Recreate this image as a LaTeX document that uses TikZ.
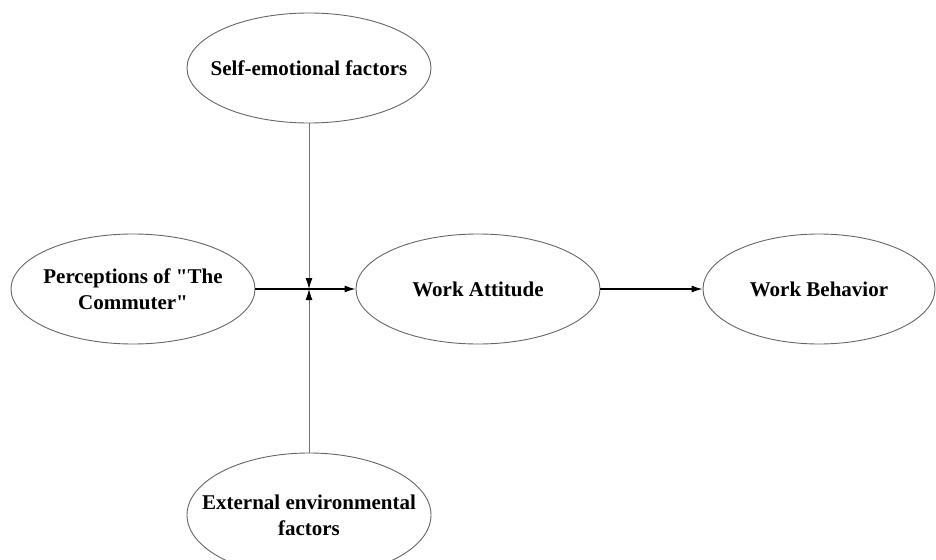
\documentclass[tikz,border=0pt]{standalone}
\usepackage{fontspec}
\setmainfont{Liberation Serif}[Ligatures=TeXOff]
\usetikzlibrary{arrows.meta,shapes.geometric}

\begin{document}
\begin{tikzpicture}[
    x = 1pt, y = -1pt, % one unit = one pixel, y downwards
    > = {Latex[length=11pt,width=7pt,color=black]}, % arrow head style
    line width = 1.2pt % line style
    ]

    \tikzset{factor/.style={
    ellipse,
    draw = black!60,
    line width = 0.9pt,
    fill = white,
    minimum width = 244pt,
    minimum height = 110pt,
    inner xsep = -40pt,
    inner ysep = 0pt,
    align = center,
    font = \fontsize{21}{26}\selectfont\bfseries
    }}
    \useasboundingbox (0,0) rectangle (936,559);

    \node[factor] (self) at (309,68) {Self-emotional factors};
    \node[factor] (perc) at (133,289) {Perceptions of "The\\Commuter"};
    \node[factor] (att)  at (478,289) {Work Attitude};
    \node[factor, minimum width = 232pt] (beh) at (819,289) {Work Behavior};
    \node[factor, minimum height = 124pt] (ext) at (309,515) {External environmental\\factors};
    \coordinate (jn) at (309,289);

    \path[->] (perc) edge (att);
    \path[->] (att) edge (beh);
    \path[->] (self) edge[black!55, line width = 0.9pt] (jn);
    \path[->] (ext) edge[black!55, line width = 0.9pt] (jn);
\end{tikzpicture}
\end{document}
